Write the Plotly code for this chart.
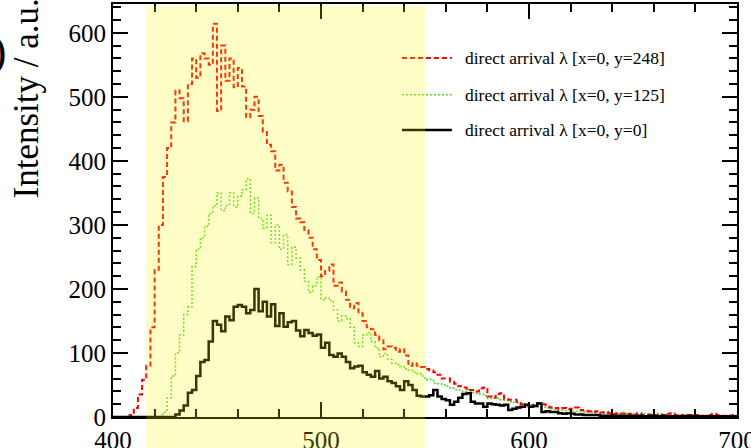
import numpy as np
import plotly.graph_objects as go

# wavelength bins: 2 nm wide, 400..700 nm
bin_start = 400
bin_width = 2

red_y248 = [
    0, 0, 0, 0, 3, 14, 35, 58, 80, 140,
    230, 300, 375, 420, 460, 510, 498, 462, 520, 560,
    530, 568, 560, 550, 614, 478, 580, 525, 560, 515,
    545, 516, 468, 480, 500, 470, 445, 425, 415, 385,
    394, 366, 352, 328, 310, 304, 292, 280, 262, 245,
    220, 228, 238, 205, 210, 196, 183, 170, 178, 162,
    150, 140, 137, 128, 120, 106, 110, 108, 102, 106,
    96, 80, 84, 80, 78, 75, 73, 70, 66, 60,
    60, 55, 52, 48, 46, 42, 42, 40, 45, 46,
    32, 30, 36, 37, 28, 27, 27, 24, 20, 18,
    19, 17, 22, 20, 16, 15, 14, 13, 14, 12,
    13, 15, 11, 10, 9, 8, 9, 7, 8, 6,
    5, 6, 5, 4, 5, 4, 6, 3, 3, 4,
    3, 4, 3, 5, 6, 3, 3, 2, 3, 2,
    3, 2, 2, 3, 5, 3, 2, 2, 2, 3,
]

green_y125 = [
    0, 0, 0, 0, 0, 0, 0, 0, 0, 0,
    0, 1, 8, 30, 64, 100, 128, 160, 172, 235,
    262, 280, 298, 318, 330, 350, 322, 330, 350, 328,
    345, 355, 372, 318, 342, 310, 295, 315, 272, 300,
    262, 285, 238, 265, 248, 230, 212, 195, 205, 219,
    183, 186, 182, 167, 150, 158, 154, 140, 116, 110,
    128, 132, 118, 108, 94, 99, 90, 84, 82, 79,
    75, 73, 70, 68, 64, 58, 59, 53, 52, 50,
    48, 45, 43, 42, 40, 43, 38, 37, 36, 33,
    29, 30, 29, 27, 26, 24, 23, 22, 21, 20,
    19, 18, 16, 15, 14, 13, 12, 11, 10, 10,
    9, 9, 8, 8, 8, 7, 7, 6, 6, 5,
    4, 5, 8, 6, 5, 5, 4, 5, 5, 4,
    6, 4, 3, 4, 3, 3, 4, 3, 2, 3,
    3, 2, 2, 3, 2, 2, 2, 2, 3, 2,
]

black_y0 = [
    0, 0, 0, 0, 0, 0, 0, 0, 0, 0,
    0, 0, 0, 0, 0, 4, 10, 18, 38, 42,
    64, 86, 89, 118, 150, 144, 134, 157, 151, 172,
    175, 172, 162, 167, 200, 165, 180, 157, 176, 142,
    162, 141, 148, 150, 135, 126, 136, 131, 127, 129,
    108, 116, 97, 94, 99, 94, 86, 76, 79, 80,
    70, 66, 63, 72, 60, 63, 56, 53, 48, 42,
    56, 50, 42, 33, 32, 32, 34, 42, 32, 28,
    26, 19, 24, 30, 36, 37, 24, 21, 21, 16,
    21, 20, 19, 18, 19, 11, 13, 15, 16, 19,
    16, 17, 21, 8, 9, 8, 8, 6, 5, 6,
    5, 4, 4, 3, 3, 3, 3, 2, 2, 2,
    2, 2, 1, 2, 2, 1, 2, 1, 1, 2,
    1, 1, 2, 1, 1, 1, 1, 1, 2, 1,
    1, 1, 1, 1, 1, 1, 1, 1, 1, 1,
]

legend_labels = [
    "direct arrival \u03bb [x=0, y=248]",
    "direct arrival \u03bb [x=0, y=125]",
    "direct arrival \u03bb [x=0, y=0]",
]
band_range = [416, 550]
x_range = [400, 700]
y_range = [0, 645]
y_title = "Intensity / a.u."
panel_label = "(b)"

FONT = "Liberation Serif, Times New Roman, serif"

def edges_and_steps(vals):
    n = len(vals)
    x = bin_start + bin_width * np.arange(n + 1)
    y = list(vals) + [vals[-1]]
    return x, y

styles = [
    dict(color="#ff0000", width=2, dash="5px,3px"),
    dict(color="#44dd22", width=1.5, dash="2px,2px"),
    dict(color="#000000", width=2.5, dash="solid"),
]
series = [red_y248, green_y125, black_y0]

fig = go.Figure()
# draw order: green, red, black on top
for idx in [1, 0, 2]:
    x, y = edges_and_steps(series[idx])
    fig.add_trace(go.Scatter(x=x, y=y, mode="lines", line_shape="hv",
                             line=styles[idx], name=legend_labels[idx],
                             showlegend=False))

axis_common = dict(
    showline=True, linecolor="black", linewidth=2, mirror="allticks",
    ticks="inside", ticklen=15, tickwidth=2, tickcolor="black",
    showgrid=False, zeroline=False, automargin=False,
    ticklabeloverflow="allow",
    tickfont=dict(family=FONT, size=25, color="black"),
)
fig.update_xaxes(range=x_range, dtick=100, tick0=400,
                 minor=dict(dtick=20, ticks="inside", ticklen=8, tickwidth=1.5, tickcolor="black"),
                 **axis_common)
fig.update_yaxes(range=y_range, dtick=100, tick0=0,
                 minor=dict(dtick=20, ticks="inside", ticklen=8, tickwidth=1.5, tickcolor="black"),
                 **axis_common)

# custom legend
leg_y = [0.869, 0.780, 0.695]
for i in range(3):
    st = styles[i]
    fig.add_shape(type="line", xref="paper", yref="paper",
                  x0=0.463, x1=0.543, y0=leg_y[i], y1=leg_y[i],
                  line=dict(color=st["color"], width=st["width"], dash=st["dash"]))
    fig.add_annotation(xref="paper", yref="paper", x=0.561, y=leg_y[i],
                       xanchor="left", yanchor="middle", showarrow=False,
                       text=legend_labels[i],
                       font=dict(family=FONT, size=17.5, color="black"))

# highlighted band drawn on top, translucent
fig.add_shape(type="rect", xref="x", yref="paper",
              x0=band_range[0], x1=band_range[1], y0=-0.2, y1=0.995,
              fillcolor="rgb(255,250,0)", opacity=0.22, line=dict(width=0),
              layer="above")

fig.add_annotation(xref="paper", yref="paper", x=-0.139, y=0.772,
                   xanchor="center", yanchor="middle", textangle=-90,
                   showarrow=False, text=y_title,
                   font=dict(family=FONT, size=35, color="black"))
fig.add_annotation(xref="paper", yref="paper", x=-0.168, y=0.885,
                   xanchor="right", yanchor="middle", showarrow=False,
                   text=panel_label,
                   font=dict(family=FONT, size=44, color="black"))

fig.update_layout(
    width=751, height=448,
    margin=dict(l=113, r=14, t=4, b=31, pad=0),
    paper_bgcolor="white", plot_bgcolor="white",
    showlegend=False,
)

fig.write_html("out.html", include_plotlyjs=True, full_html=True,
               config={"displayModeBar": False})
